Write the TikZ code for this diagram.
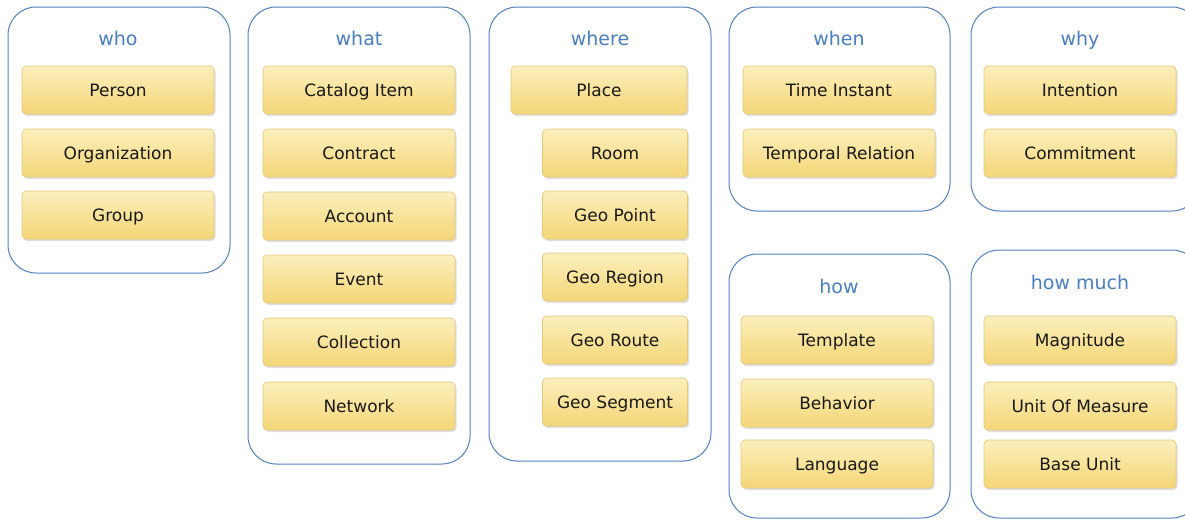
\documentclass[tikz,border=0pt]{standalone}
\usepackage{fontspec}
\setmainfont{DejaVu Sans}
\usetikzlibrary{shadows,positioning}

\definecolor{panelblue}{HTML}{5580C0}
\definecolor{titleblue}{HTML}{4A7EC0}
\definecolor{boxtop}{HTML}{FBEFBC}
\definecolor{boxbot}{HTML}{F4D677}
\definecolor{boxline}{HTML}{E3C77A}

\tikzset{
    panel/.style={draw=panelblue, line width=1pt, rounded corners=28pt, fill=white},
    heading/.style={text=titleblue, font=\fontsize{19}{22}\selectfont,
        text height=17pt, text depth=3pt},
    item/.style={rounded corners=4pt, draw=boxline, line width=0.6pt,
        top color=boxtop, bottom color=boxbot,
        drop shadow={shadow xshift=1.5pt, shadow yshift=-2pt, opacity=0.25},
        minimum height=48pt, text height=15pt, text depth=3pt,
        font=\fontsize{17}{20}\selectfont, text=black!90},
    wide/.style={item, minimum width=192pt},
    narrow/.style={item, minimum width=145pt}
}

\begin{document}
\begin{tikzpicture}[x=1pt, y=-1pt]
\useasboundingbox (0,0) rectangle (1185,520);

% panels
\draw[panel] (8,7) rectangle (230,273);
\draw[panel] (248,7) rectangle (470,464);
\draw[panel] (489,7) rectangle (711,461);
\draw[panel] (729,7) rectangle (950,211);
\draw[panel] (971,7) rectangle (1200,211);
\draw[panel] (729,254) rectangle (950,518);
\draw[panel] (971,250) rectangle (1200,518);

% who
\node[heading] (who) at (118,38) {who};
\node[wide] (person) at (118,90) {Person};
\node[wide] (org) at (118,153) {Organization};
\node[wide] (group) at (118,215) {Group};

% what
\node[heading] (what) at (359,38) {what};
\node[wide] (catalog) at (359,90) {Catalog Item};
\node[wide] (contract) at (359,153) {Contract};
\node[wide] (account) at (359,216) {Account};
\node[wide] (event) at (359,279) {Event};
\node[wide] (collection) at (359,342) {Collection};
\node[wide] (network) at (359,406) {Network};

% where
\node[heading] (where) at (600,38) {where};
\node[item, minimum width=176pt] (place) at (599,90) {Place};
\node[narrow] (room) at (615,153) {Room};
\node[narrow] (geopoint) at (615,215) {Geo Point};
\node[narrow] (georegion) at (615,277) {Geo Region};
\node[narrow] (georoute) at (615,340) {Geo Route};
\node[narrow] (geosegment) at (615,402) {Geo Segment};

% when
\node[heading] (when) at (839,38) {when};
\node[wide] (instant) at (839,90) {Time Instant};
\node[wide] (temporal) at (839,153) {Temporal Relation};

% why
\node[heading] (why) at (1080,38) {why};
\node[wide] (intention) at (1080,90) {Intention};
\node[wide] (commitment) at (1080,153) {Commitment};

% how
\node[heading] (how) at (839,286) {how};
\node[wide] (template) at (837,340) {Template};
\node[wide] (behavior) at (837,403) {Behavior};
\node[wide] (language) at (837,464) {Language};

% how much
\node[heading] (howmuch) at (1080,282) {how much};
\node[wide] (magnitude) at (1080,340) {Magnitude};
\node[wide] (unit) at (1080,406) {Unit Of Measure};
\node[wide] (baseunit) at (1080,464) {Base Unit};
\end{tikzpicture}
\end{document}
